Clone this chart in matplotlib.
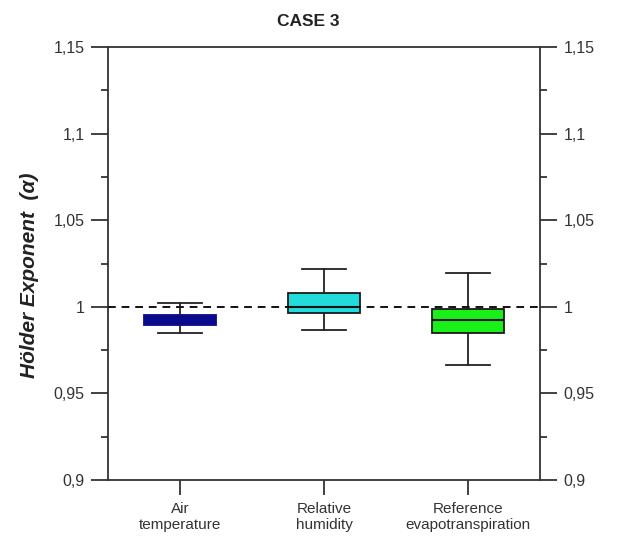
import matplotlib.pyplot as plt
import numpy as np
from matplotlib.ticker import MultipleLocator

plt.rcParams['font.family'] = ['Liberation Sans', 'DejaVu Sans']

labels = ['Air\ntemperature', 'Relative\nhumidity', 'Reference\nevapotranspiration']
whislo = [0.985, 0.9866, 0.9664]
q1 = [0.9895, 0.9964, 0.9849]
med = [0.992, 1.0, 0.9922]
q3 = [0.9955, 1.008, 0.9987]
whishi = [1.0022, 1.0218, 1.0195]
colors = ['#0a0a8c', '#22dcdc', '#18f018']
yticks = [0.9, 0.95, 1.0, 1.05, 1.1, 1.15]
ytick_labels = ['0,9', '0,95', '1', '1,05', '1,1', '1,15']

stats = []
for i in range(3):
    stats.append(dict(whislo=whislo[i], q1=q1[i], med=med[i], q3=q3[i],
                      whishi=whishi[i], fliers=[]))

fig = plt.figure(figsize=(6.21, 5.42), dpi=100)
ax = fig.add_axes([108/621, 62/542, 432/621, 433/542])

bp = ax.bxp(stats, positions=[0, 1, 2], widths=0.5, patch_artist=True,
            showfliers=False,
            boxprops=dict(linewidth=1.3, edgecolor='#1a1a1a'),
            whiskerprops=dict(color='#222222', linewidth=1.3),
            capprops=dict(color='#222222', linewidth=1.3),
            medianprops=dict(color='#111111', linewidth=1.5))
for patch, c in zip(bp['boxes'], colors):
    patch.set_facecolor(c)
bp['boxes'][0].set_edgecolor('#0a0a8c')
bp['medians'][0].set_color('#0a0a8c')
# caps narrower than the boxes
for cap in bp['caps']:
    x0, x1 = cap.get_xdata()
    xc = (x0 + x1) / 2
    cap.set_xdata([xc - 0.155, xc + 0.155])

ax.axhline(1.0, color='#111111', linestyle=(0, (4, 3)), linewidth=1.4, zorder=5)

ax.set_xlim(-0.5, 2.5)
ax.set_ylim(0.9, 1.15)
ax.set_xticks([0, 1, 2])
ax.set_xticklabels(labels, fontsize=11, color='#333333')
ax.set_yticks(yticks)
ax.set_yticklabels(ytick_labels, fontsize=11.5, color='#333333')
ax.yaxis.set_minor_locator(MultipleLocator(0.025))
ax.tick_params(axis='y', which='major', direction='out', length=12, width=1.3,
               left=True, right=True, labelleft=True, labelright=True,
               color='#333333', pad=5)
ax.tick_params(axis='y', which='minor', direction='out', length=5, width=1.3,
               left=True, right=True, color='#333333')
ax.tick_params(axis='x', which='major', direction='out', length=11, width=1.3,
               color='#333333', pad=5)
for s in ax.spines.values():
    s.set_linewidth(1.3)
    s.set_color('#333333')

ax.set_ylabel('Hölder Exponent  (α)', fontsize=15, fontweight='bold',
              fontstyle='italic', color='#222222')
ax.yaxis.set_label_coords(-0.16, 0.473)
fig.text(308/621, 1 - 22/542, 'CASE 3', ha='center', va='center',
         fontsize=12.5, fontweight='bold', color='#222222')

fig.savefig('out.png', dpi=100)
